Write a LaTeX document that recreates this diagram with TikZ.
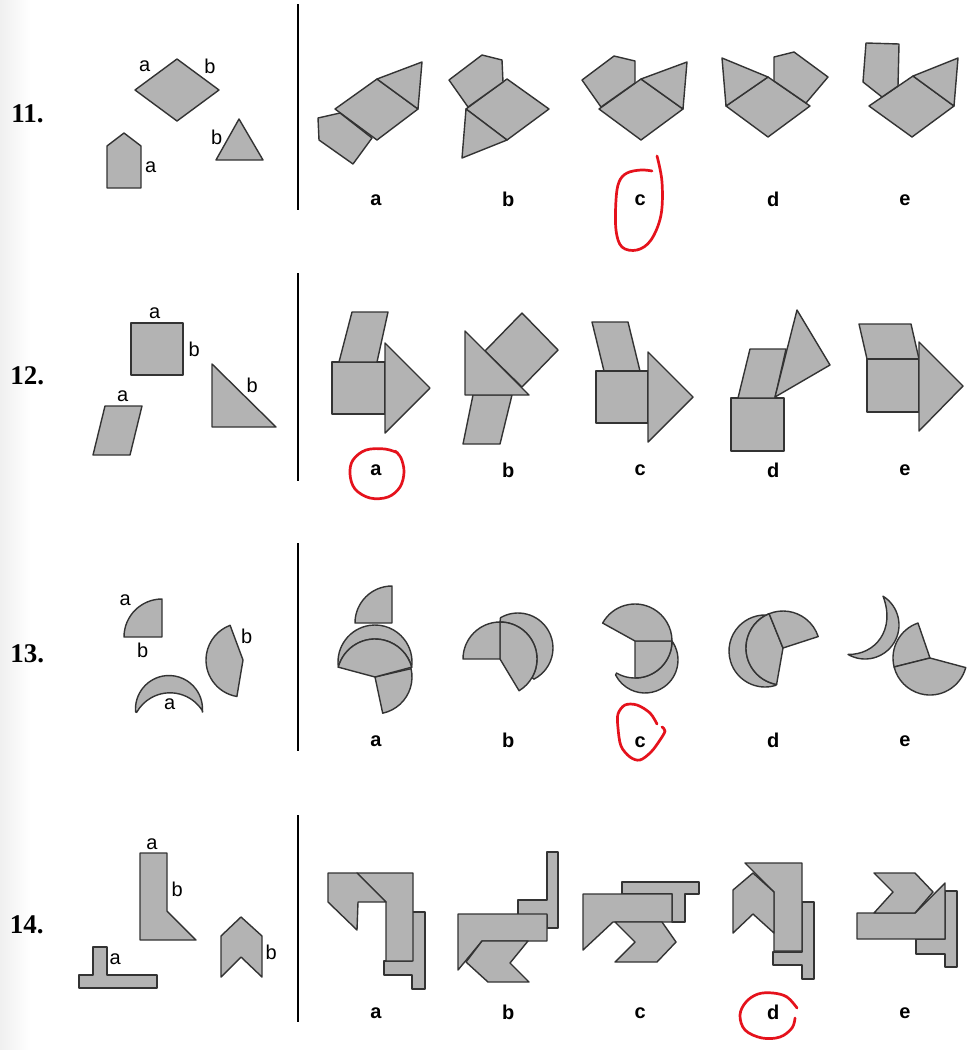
\documentclass[tikz,border=0pt]{standalone}
\usepackage{fontspec}
\usetikzlibrary{calc}
\newfontfamily\sansf{Liberation Sans}
\newfontfamily\seriff{Liberation Serif}
\definecolor{pfill}{HTML}{B3B3B3}
\definecolor{pline}{HTML}{333333}
\definecolor{redink}{HTML}{E5121C}
\tikzset{
 piece/.style={fill=pfill,draw=pline,line width=1.4pt,line join=round},
 lbl/.style={inner sep=0pt,font=\sansf\fontsize{20}{20}\selectfont},
 ans/.style={inner sep=0pt,font=\sansf\bfseries\fontsize{20}{20}\selectfont},
 num/.style={inner sep=0pt,font=\seriff\bfseries\fontsize{27}{27}\selectfont},
 sepline/.style={line width=1.7pt,draw=black},
 redmark/.style={draw=redink,line width=2.7pt,line cap=round,line join=round}
}
\begin{document}
\begin{tikzpicture}[x=1pt,y=1pt,yscale=-1]
\useasboundingbox (0,0) rectangle (968,1050);
\fill[white] (0,0) rectangle (968,1050);
\shade[left color=black!6,right color=white] (0,0) rectangle (30,1050);

% ---------- separators ----------
\coordinate (s1t) at (298,4);   \coordinate (s1b) at (298,210);
\coordinate (s2t) at (298,273); \coordinate (s2b) at (298,481);
\coordinate (s3t) at (298,543); \coordinate (s3b) at (298,751);
\coordinate (s4t) at (298,815); \coordinate (s4b) at (298,1022);
\draw[sepline] (s1t) -- (s1b);
\draw[sepline] (s2t) -- (s2b);
\draw[sepline] (s3t) -- (s3b);
\draw[sepline] (s4t) -- (s4b);

% ---------- row numbers ----------
\node[num] (n11) at (27.5,113.3) {11.};
\node[num] (n12) at (27.3,376) {12.};
\node[num] (n13) at (27.3,654) {13.};
\node[num] (n14) at (26.7,925) {14.};

% ================= ROW 11 =================
\draw[piece] (135,90) -- (177,59) -- (219,90) -- (177,121) -- cycle;
\draw[piece] (107,188) -- (107,146) -- (124,133) -- (141,146) -- (141,188) -- cycle;
\draw[piece] (216,160) -- (239,119) -- (263,160) -- cycle;
\node[lbl] (l11a1) at (144.7,66.7) {a};
\node[lbl] (l11b1) at (210,66) {b};
\node[lbl] (l11a2) at (150.7,167.3) {a};
\node[lbl] (l11b2) at (216.7,137.7) {b};
% a
\draw[piece] (335,109) -- (377,79) -- (418,109) -- (377,140) -- cycle;
\draw[piece] (377,79) -- (422,62) -- (418,109) -- cycle;
\draw[piece] (318,118) -- (340,113) -- (372,138) -- (353,164) -- (319,140) -- cycle;
% b
\draw[piece] (466,109) -- (507,79) -- (549,109) -- (507,140) -- cycle;
\draw[piece] (449,80) -- (482,55) -- (502,60) -- (503,82) -- (468,107) -- cycle;
\draw[piece] (466,109) -- (507,140) -- (462,158) -- cycle;
% c
\draw[piece] (599,109) -- (641,79) -- (683,109) -- (641,140) -- cycle;
\draw[piece] (582,80) -- (614,56) -- (635,61) -- (635,83) -- (601,107) -- cycle;
\draw[piece] (641,79) -- (687,62) -- (683,109) -- cycle;
% d
\draw[piece] (726,106) -- (768,77) -- (810,106) -- (768,137) -- cycle;
\draw[piece] (726,106) -- (722,58) -- (768,77) -- cycle;
\draw[piece] (774,57) -- (794,52) -- (828,77) -- (806,103) -- (774,81) -- cycle;
% e
\draw[piece] (869,106) -- (913,76) -- (954,106) -- (912,137) -- cycle;
\draw[piece] (913,76) -- (958,58) -- (954,106) -- cycle;
\draw[piece] (866,43) -- (899,44) -- (898,86) -- (882,97) -- (863,82) -- cycle;
\node[ans] (a11a) at (376,200.7) {a};
\node[ans] (a11b) at (508.3,199.7) {b};
\node[ans] (a11c) at (640.3,200.7) {c};
\node[ans] (a11d) at (773.3,199.7) {d};
\node[ans] (a11e) at (905,200.7) {e};
\draw[redmark] plot[smooth,tension=0.6] coordinates {(657,156) (662,182) (661,215) (651,240) (637,250) (622,247) (616,230) (616,200) (619,182) (627,173) (641,170) (652,171)};

% ================= ROW 12 =================
\draw[piece] (131,323) rectangle (183,375);
\draw[piece] (105,406) -- (142,406) -- (130,455) -- (93,455) -- cycle;
\draw[piece] (212,364) -- (276,427) -- (212,427) -- cycle;
\node[lbl] (l12a1) at (154.7,313.7) {a};
\node[lbl] (l12b1) at (194.3,349.7) {b};
\node[lbl] (l12a2) at (122.7,396.3) {a};
\node[lbl] (l12b2) at (252.3,385.7) {b};
% a
\draw[piece] (332,362) rectangle (385,414);
\draw[piece] (352,312) -- (388,312) -- (377,362) -- (339,362) -- cycle;
\draw[piece] (385,343) -- (430,388) -- (385,433) -- cycle;
% b
\draw[piece] (473,395) -- (512,395) -- (500,444) -- (463,444) -- cycle;
\draw[piece] (485,351) -- (522,313) -- (558,350) -- (522,387) -- cycle;
\draw[piece] (465,331) -- (529,395) -- (465,395) -- cycle;
% c
\draw[piece] (592,322) -- (628,322) -- (640,371) -- (604,371) -- cycle;
\draw[piece] (596,371) rectangle (648,423);
\draw[piece] (648,352) -- (693,397) -- (648,442) -- cycle;
% d
\draw[piece] (731,398) rectangle (784,451);
\draw[piece] (750,349) -- (786,349) -- (775,398) -- (738,398) -- cycle;
\draw[piece] (797,310) -- (830,365) -- (775,397) -- cycle;
% e
\draw[piece] (859,324) -- (911,324) -- (919,359) -- (867,359) -- cycle;
\draw[piece] (867,359) rectangle (919,412);
\draw[piece] (919,342) -- (963,386) -- (919,431) -- cycle;
\node[ans] (a12a) at (376,470.7) {a};
\node[ans] (a12b) at (508.3,470) {b};
\node[ans] (a12c) at (640.3,470.7) {c};
\node[ans] (a12d) at (773.3,470) {d};
\node[ans] (a12e) at (905,470.7) {e};
\draw[redmark] plot[smooth,tension=0.6] coordinates {(398,453) (385,449) (366,450) (353,460) (350,474) (355,489) (370,498) (388,497) (400,487) (404,472) (401,458) (395,451)};

% ================= ROW 13 =================
\draw[piece] (162,637) -- ++(180:38) arc[start angle=180,end angle=270,radius=38] -- cycle;
\draw[piece] (243,660) -- ++(99.5:37) arc[start angle=99.5,end angle=249.6,radius=37] -- cycle;
\draw[piece] ($(169,709)+(174.8:33.5)$) arc[start angle=174.8,end angle=365.2,radius=33.5]
   -- ($(170,731)+(329.3:38.2)$) arc[start angle=329.3,end angle=209.2,radius=38.2] -- cycle;
\node[lbl] (l13a1) at (125.3,600.7) {a};
\node[lbl] (l13b1) at (142.7,650) {b};
\node[lbl] (l13b2) at (246.7,636.7) {b};
\node[lbl] (l13a2) at (169.7,704.7) {a};
% a
\draw[piece] (375,677) -- ++(347:37) arc[start angle=347,end angle=438,radius=37] -- cycle;
\draw[piece] ($(375,662)+(172:37)$) arc[start angle=172,end angle=368,radius=37]
   -- ($(375,677)+(345:38)$) arc[start angle=345,end angle=195,radius=38] -- cycle;
\draw[piece] (375,677) -- ++(195:38) arc[start angle=195,end angle=345,radius=38] -- cycle;
\draw[piece] (392,623) -- ++(180:37) arc[start angle=180,end angle=270,radius=37] -- cycle;
% b
\draw[piece] ($(518,648)+(240:35)$) arc[start angle=240,end angle=423,radius=35]
   -- ($(500,659)+(30:37)$) arc[start angle=30,end angle=-90,radius=37] -- cycle;
\draw[piece] (500,659) -- ++(270:37) arc[start angle=270,end angle=419,radius=37] -- cycle;
\draw[piece] (500,659) -- ++(180:37) arc[start angle=180,end angle=270,radius=37] -- cycle;
% c
\draw[piece] ($(645,660)+(-35:33)$) arc[start angle=-35,end angle=153,radius=33]
   -- ($(635,641)+(120:37)$) arc[start angle=120,end angle=0,radius=37] -- cycle;
\draw[piece] (635,641) -- ++(0:37) arc[start angle=0,end angle=90,radius=37] -- cycle;
\draw[piece] (635,641) -- ++(209:37) arc[start angle=209,end angle=360,radius=37] -- cycle;
% d
\draw[piece] ($(765,651)+(73:36)$) arc[start angle=73,end angle=278,radius=36]
   -- ($(783,648)+(248:37)$) arc[start angle=248,end angle=100,radius=37] -- cycle;
\draw[piece] (783,648) -- ++(100:37) arc[start angle=100,end angle=248,radius=37] -- cycle;
\draw[piece] (783,648) -- ++(248:37) arc[start angle=248,end angle=342,radius=37] -- cycle;
% e
\draw[piece] ($(865,625)+(-58:34)$) arc[start angle=-58,end angle=120,radius=34]
   .. controls (875,655) and (896,630) .. cycle;
\draw[piece] (930,658) -- ++(166:37) arc[start angle=166,end angle=251,radius=37] -- cycle;
\draw[piece] (930,658) -- ++(15:37) arc[start angle=15,end angle=166,radius=37] -- cycle;
\node[ans] (a13a) at (376,741.7) {a};
\node[ans] (a13b) at (508.3,740.7) {b};
\node[ans] (a13c) at (640.3,742.7) {c};
\node[ans] (a13d) at (773.3,740.7) {d};
\node[ans] (a13e) at (905,741.7) {e};
\draw[redmark] plot[smooth,tension=0.55] coordinates {(657,724) (650,713) (637,705) (625,705) (618,714) (618,728) (621,746) (630,757) (640,760) (651,752) (660,740) (665,731) (662,727)};

% ================= ROW 14 =================
\draw[piece] (140,853) -- (167,853) -- (167,911) -- (196,940) -- (140,940) -- cycle;
\draw[piece] (93,947) -- (107,947) -- (107,975) -- (157,975) -- (157,988) -- (79,988) -- (79,975) -- (93,975) -- cycle;
\draw[piece] (221,936) -- (241,917) -- (262,936) -- (262,977) -- (241,957) -- (221,977) -- cycle;
\node[lbl] (l14a1) at (152,844) {a};
\node[lbl] (l14b1) at (177.3,889.7) {b};
\node[lbl] (l14a2) at (115.3,959.3) {a};
\node[lbl] (l14b2) at (271.3,952.7) {b};
% a
\draw[piece] (412,912) -- (425,912) -- (425,989) -- (412,989) -- (412,975) -- (384,975) -- (384,961) -- (412,961) -- cycle;
\draw[piece] (357,873) -- (413,873) -- (413,961) -- (386,961) -- (386,902) -- cycle;
\draw[piece] (328,873) -- (357,873) -- (386,902) -- (358,902) -- (357,930) -- (328,902) -- cycle;
% b
\draw[piece] (547,852) -- (558,852) -- (558,928) -- (547,928) -- (547,915) -- (518,915) -- (518,900) -- (547,900) -- cycle;
\draw[piece] (458,914) -- (547,914) -- (547,941) -- (482,941) -- (458,970) -- cycle;
\draw[piece] (482,941) -- (528,941) -- (510,963) -- (529,982) -- (488,982) -- (466,962) -- cycle;
% c
\draw[piece] (622,882) -- (699,882) -- (699,894) -- (685,894) -- (685,922) -- (672,922) -- (672,894) -- (622,894) -- cycle;
\draw[piece] (583,894) -- (672,894) -- (672,922) -- (613,922) -- (583,950) -- cycle;
\draw[piece] (615,922) -- (662,922) -- (676,942) -- (657,962) -- (615,962) -- (635,942) -- cycle;
% d
\draw[piece] (802,902) -- (814,902) -- (814,979) -- (802,979) -- (802,965) -- (773,965) -- (773,952) -- (802,952) -- cycle;
\draw[piece] (745,863) -- (802,863) -- (802,951) -- (774,951) -- (774,892) -- cycle;
\draw[piece] (733,890) -- (753,873) -- (774,892) -- (774,933) -- (753,914) -- (733,933) -- cycle;
% e
\draw[piece] (945,891) -- (957,891) -- (957,967) -- (945,967) -- (945,954) -- (916,954) -- (916,939) -- (945,939) -- cycle;
\draw[piece] (857,913) -- (915,913) -- (945,883) -- (945,939) -- (857,939) -- cycle;
\draw[piece] (874,873) -- (915,873) -- (933,892) -- (915,913) -- (874,913) -- (893,892) -- cycle;
\node[ans] (a14a) at (376,1013.3) {a};
\node[ans] (a14b) at (508.3,1012.3) {b};
\node[ans] (a14c) at (640.3,1013.3) {c};
\node[ans] (a14d) at (773.3,1012.3) {d};
\node[ans] (a14e) at (905,1013.3) {e};
\draw[redmark] plot[smooth,tension=0.6] coordinates {(797,1008) (787,997) (773,993) (758,994) (746,1002) (740,1015) (745,1030) (762,1038) (780,1037) (792,1028) (795,1018)};
\end{tikzpicture}
\end{document}
